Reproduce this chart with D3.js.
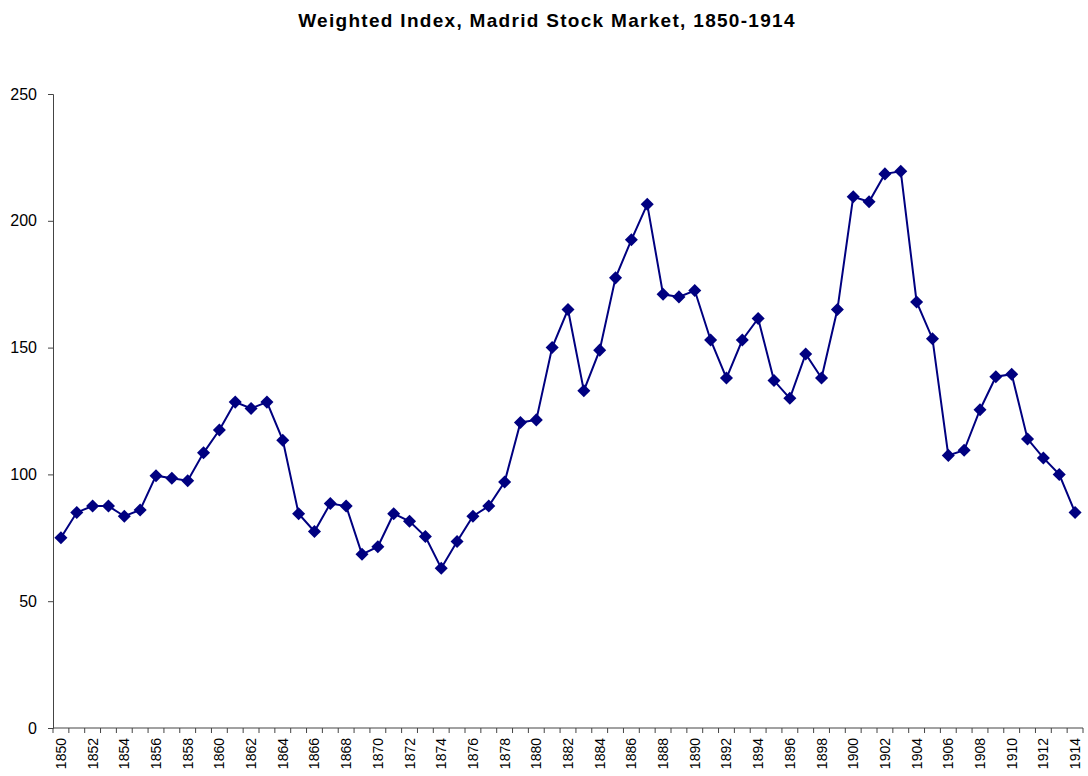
<!DOCTYPE html>
<html>
<head>
<meta charset="utf-8">
<script src="https://cdn.jsdelivr.net/npm/d3@7"></script>
<style>
  body { margin: 0; background: #fff; }
  svg { display: block; font-family: "Liberation Sans", Arial, sans-serif; }
</style>
</head>
<body>
<div id="chart"></div>
<script>
// Weighted index, Madrid stock market
const years = d3.range(1850, 1915);
const indexValues = [
  75, 85, 87.5, 87.5, 83.5, 86, 99.5, 98.5, 97.5, 108.5,
  117.5, 128.5, 126, 128.5, 113.5, 84.5, 77.5, 88.5, 87.5, 68.5,
  71.5, 84.5, 81.5, 75.5, 63, 73.5, 83.5, 87.5, 97, 120.5,
  121.5, 150, 165, 133, 149, 177.5, 192.5, 206.5, 171, 170,
  172.5, 153, 138, 153, 161.5, 137, 130, 147.5, 138, 165,
  209.5, 207.5, 218.5, 219.5, 168, 153.5, 107.5, 109.5, 125.5, 138.5,
  139.5, 114, 106.5, 100, 85
];
const yTicks = [0, 50, 100, 150, 200, 250];
const chartTitle = "Weighted Index, Madrid Stock Market, 1850-1914";

const W = 1088, H = 776;
const margin = {top: 94, right: 5, bottom: 48, left: 53};
const width = W - margin.left - margin.right;
const height = H - margin.top - margin.bottom;

const svg = d3.select("#chart").append("svg")
  .attr("width", W)
  .attr("height", H);

svg.append("text")
  .attr("x", 547)
  .attr("y", 27)
  .attr("text-anchor", "middle")
  .style("font-size", "19px")
  .style("font-weight", "bold")
  .style("letter-spacing", "1.3px")
  .text(chartTitle);

const g = svg.append("g")
  .attr("transform", `translate(${margin.left},${margin.top})`);

const x = d3.scaleBand()
  .domain(years)
  .range([0, width]);

const y = d3.scaleLinear()
  .domain([0, 250])
  .range([height, 0]);

// y axis
const yAxis = g.append("g")
  .call(d3.axisLeft(y).tickValues(yTicks).tickSize(5).tickPadding(11));
yAxis.selectAll("text").style("font-size", "16px").attr("fill", "#000");
yAxis.selectAll("line, path").attr("stroke", "#444");

// x axis: ticks at category boundaries, labels every second year
const xAxis = g.append("g")
  .attr("transform", `translate(0,${height})`);
xAxis.append("line")
  .attr("x1", 0).attr("x2", width)
  .attr("stroke", "#444");
xAxis.selectAll(".tk")
  .data(years.concat([1915]))
  .enter().append("line")
  .attr("class", "tk")
  .attr("x1", d => d === 1915 ? width : x(d))
  .attr("x2", d => d === 1915 ? width : x(d))
  .attr("y1", 0).attr("y2", 5)
  .attr("stroke", "#444");
xAxis.selectAll(".lbl")
  .data(years.filter((d, i) => i % 2 === 0))
  .enter().append("text")
  .attr("class", "lbl")
  .attr("transform", d => `translate(${x(d) + x.bandwidth() / 2 + 5},${10}) rotate(-90)`)
  .attr("text-anchor", "end")
  .style("font-size", "14px")
  .attr("fill", "#000")
  .text(d => d);

const data = years.map((yr, i) => ({year: yr, value: indexValues[i]}));

const line = d3.line()
  .x(d => x(d.year) + x.bandwidth() / 2)
  .y(d => y(d.value));

g.append("path")
  .datum(data)
  .attr("fill", "none")
  .attr("stroke", "#000080")
  .attr("stroke-width", 2)
  .attr("d", line);

g.selectAll(".pt")
  .data(data)
  .enter().append("path")
  .attr("class", "pt")
  .attr("d", d3.symbol(d3.symbolSquare, 85))
  .attr("transform", d => `translate(${x(d.year) + x.bandwidth() / 2},${y(d.value)}) rotate(45)`)
  .attr("fill", "#000080");
</script>
</body>
</html>
